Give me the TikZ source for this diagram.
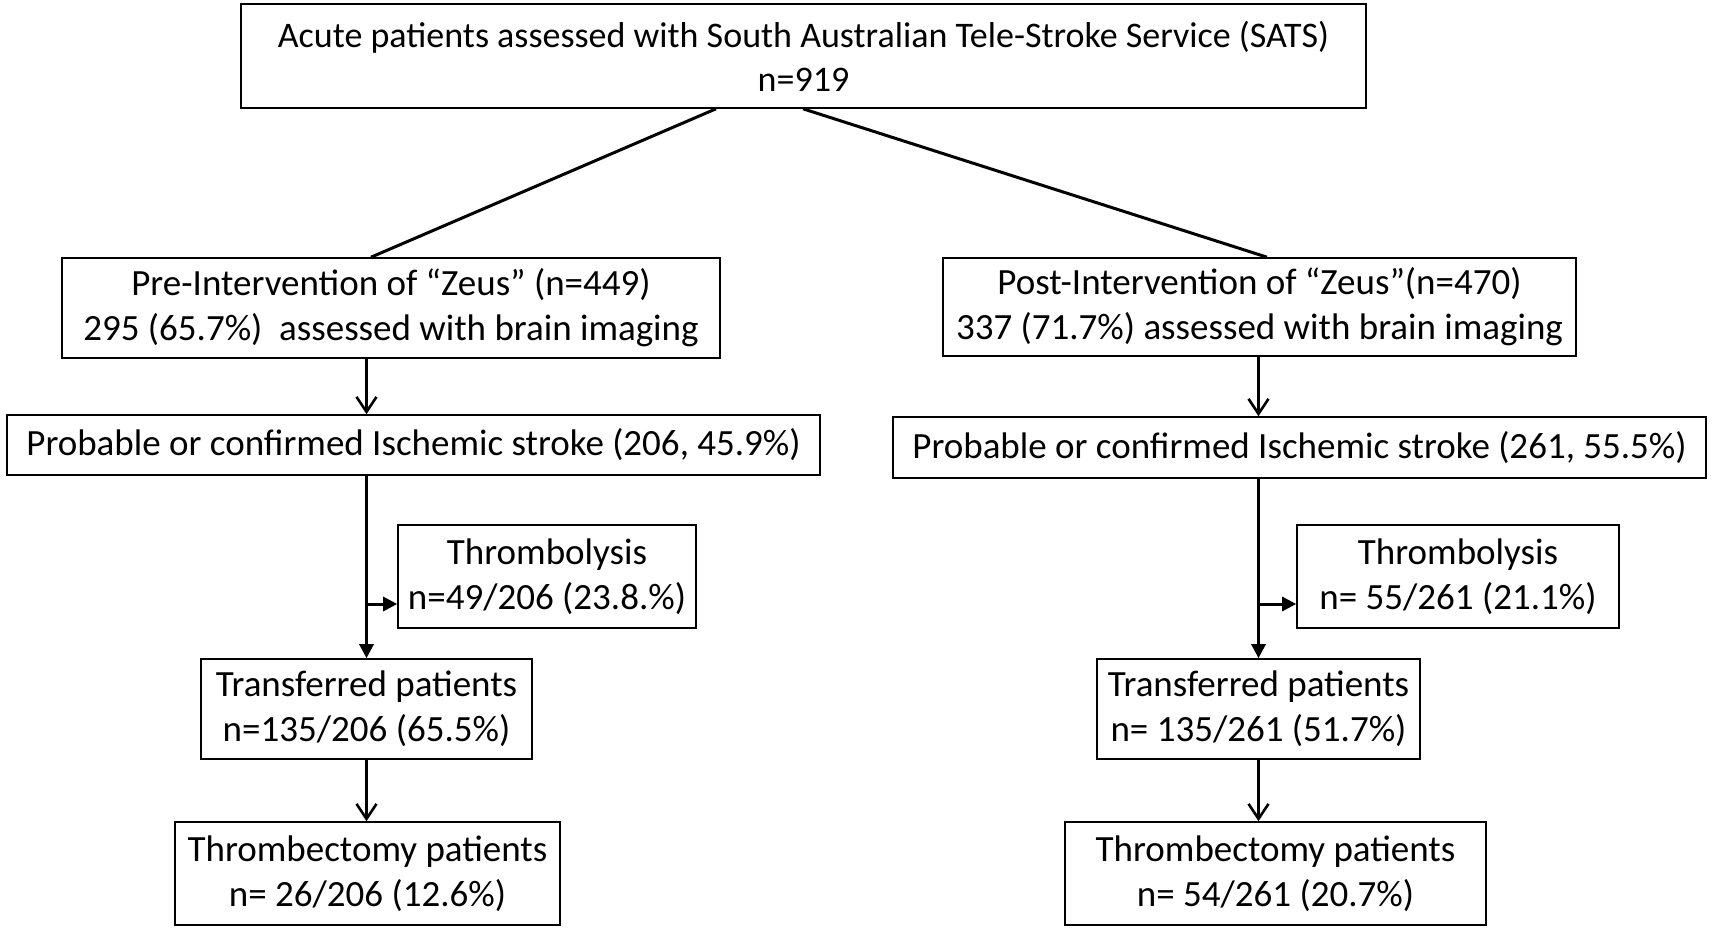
\documentclass[tikz,border=0pt]{standalone}
\usepackage{fontspec}
\setmainfont{Carlito}
\usetikzlibrary{arrows.meta}
\tikzset{
  box/.style={draw=black, line width=1.6pt, inner sep=0pt, align=center, font=\fontsize{37}{45}\selectfont},
  conn/.style={line width=3pt, black},
  openarr/.style={conn, -{Straight Barb[length=15pt, width=20pt, line width=2.6pt]}},
  fillarr/.style={conn, -{Triangle[length=14pt, width=14pt]}}
}
\begin{document}
\begin{tikzpicture}[x=1pt,y=-1pt]
\useasboundingbox[fill=white] (0,0) rectangle (1713,933);
% boxes
\node[box, font=\fontsize{36}{44}\selectfont, minimum width=1125pt, minimum height=104pt] (top) at (803.5,56) {Acute patients assessed with South Australian Tele-Stroke Service (SATS)\\ n=919};
\node[box, minimum width=658pt, minimum height=100pt] (pre) at (391,308) {Pre-Intervention of “Zeus” (n=449)\\ 295 (65.7\%)~ assessed with brain imaging};
\node[box, minimum width=633pt, minimum height=98pt] (post) at (1259.5,307) {Post-Intervention of “Zeus”(n=470)\\ 337 (71.7\%) assessed with brain imaging};
\node[box, minimum width=813pt, minimum height=60pt] (probL) at (413.5,445) {Probable or confirmed Ischemic stroke (206, 45.9\%)};
\node[box, minimum width=813pt, minimum height=61pt] (probR) at (1299.5,447.5) {Probable or confirmed Ischemic stroke (261, 55.5\%)};
\node[box, minimum width=298pt, minimum height=103pt] (thrL) at (547,576.5) {Thrombolysis\\ n=49/206 (23.8.\%)};
\node[box, minimum width=322pt, minimum height=103pt] (thrR) at (1458,576.5) {Thrombolysis\\ n= 55/261 (21.1\%)};
\node[box, minimum width=331pt, minimum height=100pt] (trL) at (366.5,709) {Transferred patients\\ n=135/206 (65.5\%)};
\node[box, minimum width=323pt, minimum height=100pt] (trR) at (1258.5,709) {Transferred patients\\ n= 135/261 (51.7\%)};
\node[box, minimum width=385pt, minimum height=103pt] (tbL) at (367.5,873.5) {Thrombectomy patients\\ n= 26/206 (12.6\%)};
\node[box, minimum width=421pt, minimum height=103pt] (tbR) at (1275.5,873.5) {Thrombectomy patients\\ n= 54/261 (20.7\%)};
% split lines from top
\draw[conn] ([xshift=-87.5pt]top.south) -- ([xshift=-20pt]pre.north);
\draw[conn] ([xshift=-0.5pt]top.south) -- ([xshift=7.5pt]post.north);
% left column
\draw[openarr] (pre.south -| trL) -- (probL.north -| trL);
\coordinate (bL) at (trL |- 0,604);
\draw[fillarr] (probL.south -| trL) -- (trL.north);
\draw[fillarr] (bL) -- (bL -| thrL.west);
\draw[openarr] (trL.south) -- (tbL.north -| trL);
% right column
\draw[openarr] (post.south -| trR) -- (probR.north -| trR);
\coordinate (bR) at (trR |- 0,604);
\draw[fillarr] (probR.south -| trR) -- (trR.north);
\draw[fillarr] (bR) -- (bR -| thrR.west);
\draw[openarr] (trR.south) -- (tbR.north -| trR);
\end{tikzpicture}
\end{document}
